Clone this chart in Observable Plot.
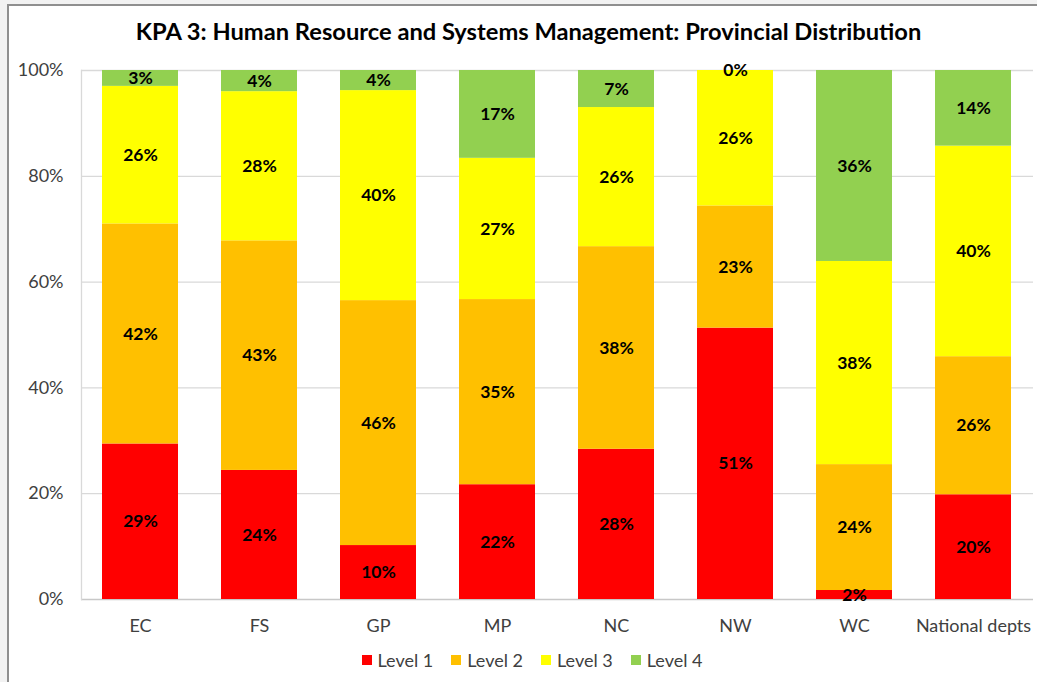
<!DOCTYPE html>
<html>
<head>
<meta charset="utf-8">
<script src="https://cdn.jsdelivr.net/npm/d3@7"></script>
<script src="https://cdn.jsdelivr.net/npm/@observablehq/plot@0.6"></script>
<style>
  html, body { margin: 0; padding: 0; background: #f2f2f2; }
  #wrap { position: relative; width: 1037px; height: 682px; overflow: hidden; }
  #frame { position: absolute; left: 7px; top: 4px; width: 1100px; height: 720px; background: #fff;
           border-left: 2px solid #8f8f8f; border-top: 2px solid #8f8f8f; }
  #title { position: absolute; left: 0; top: 17px; width: 1057px; text-align: center;
           font-family: Lato, sans-serif; font-weight: bold; font-size: 23.7px; color: #000; }
  #chart { position: absolute; left: 0; top: 0; }
  #legend { position: absolute; left: 0; top: 649px; width: 1064px; display: flex; justify-content: center;
            font-family: Lato, sans-serif; font-size: 18px; color: #404040; }
  .item { display: flex; align-items: center; margin: 0 9px; }
  .sw { width: 10px; height: 10px; margin-right: 6px; }
</style>
</head>
<body>
<div id="wrap">
  <div id="frame"></div>
  <div id="title">KPA 3: Human Resource and Systems Management: Provincial Distribution</div>
  <div id="chart"></div>
  <div id="legend"></div>
</div>
<script>
const categories = ["EC", "FS", "GP", "MP", "NC", "NW", "WC", "National depts"];
const levels = ["Level 1", "Level 2", "Level 3", "Level 4"];
const colors = ["#FF0000", "#FFC000", "#FFFF00", "#92D050"];
const level1 = [29.4, 24.4, 10.2, 21.7, 28.4, 51.3, 1.7, 19.8];
const level2 = [41.6, 43.4, 46.3, 35.0, 38.3, 23.1, 23.8, 26.1];
const level3 = [26.0, 28.2, 39.7, 26.7, 26.3, 25.6, 38.4, 39.8];
const level4 = [3.0, 4.0, 3.8, 16.6, 7.0, 0.0, 36.1, 14.3];
const yTicks = [0, 20, 40, 60, 80, 100];

const series = [level1, level2, level3, level4];
const data = [];
categories.forEach((c, i) => {
  levels.forEach((l, j) => data.push({category: c, level: l, value: series[j][i]}));
});

const stackOpts = {x: "category", y: "value", z: "level", order: levels};

const chart = Plot.plot({
  width: 1037,
  height: 645,
  marginLeft: 81,
  marginRight: 4,
  marginTop: 70,
  marginBottom: 46,
  style: {fontFamily: "Lato, sans-serif", fontSize: "18px", color: "#404040", background: "transparent"},
  x: {domain: categories, paddingInner: 0.358, paddingOuter: 0.174, label: null},
  y: {domain: [0, 100], label: null},
  color: {domain: levels, range: colors},
  marks: [
    Plot.ruleY(yTicks.slice(1), {stroke: "#d9d9d9", strokeWidth: 1.3}),
    Plot.ruleY([0], {stroke: "#c8c8c8", strokeWidth: 1.3}),
    Plot.frame({anchor: "left", stroke: "#d9d9d9", strokeWidth: 1.3}),
    Plot.barY(data, Plot.stackY({...stackOpts, fill: "level"})),
    Plot.text(data, Plot.stackY({...stackOpts, text: d => Math.round(d.value) + "%",
      fontWeight: "bold", fill: "#000", fontSize: 17.5})),
    Plot.axisY({ticks: yTicks, tickFormat: d => d + "%", tickSize: 0, tickPadding: 18, fontSize: 18}),
    Plot.axisX({tickSize: 0, tickPadding: 20, fontSize: 18})
  ]
});
document.getElementById("chart").appendChild(chart);

const legend = document.getElementById("legend");
levels.forEach((l, i) => {
  const it = document.createElement("div");
  it.className = "item";
  const sw = document.createElement("span");
  sw.className = "sw";
  sw.style.background = colors[i];
  const t = document.createElement("span");
  t.textContent = l;
  it.appendChild(sw); it.appendChild(t);
  legend.appendChild(it);
});
</script>
</body>
</html>
